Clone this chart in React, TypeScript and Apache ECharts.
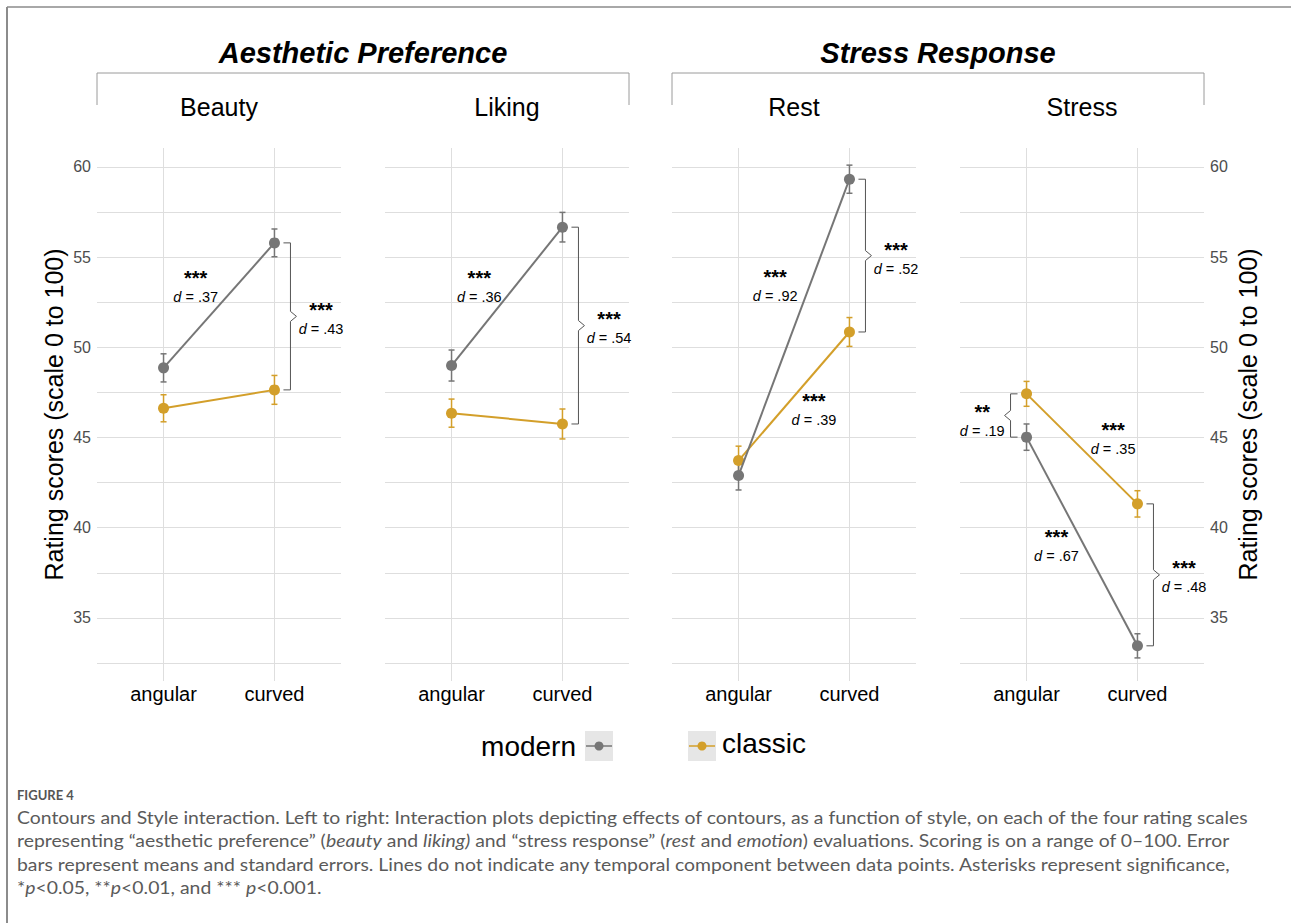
import React, { useEffect, useRef } from 'react';
import * as echarts from 'echarts';

// ---------- data ----------
const panelTitles = ['Beauty', 'Liking', 'Rest', 'Stress'];
const groupTitles = ['Aesthetic Preference', 'Stress Response'];
const conditions = ['angular', 'curved'];
const yLabelTicks = [35, 40, 45, 50, 55, 60];
const yGridTicks = [32.5, 35, 37.5, 40, 42.5, 45, 47.5, 50, 52.5, 55, 57.5, 60];

const modernMean = [[48.86, 55.79], [48.99, 56.66], [42.89, 59.32], [45.02, 33.45]];
const modernSE = [[0.78, 0.77], [0.86, 0.82], [0.8, 0.78], [0.73, 0.67]];
const classicMean = [[46.62, 47.64], [46.35, 45.75], [43.72, 50.85], [47.42, 41.32]];
const classicSE = [[0.75, 0.8], [0.78, 0.83], [0.8, 0.8], [0.69, 0.73]];

// annotation labels (data coordinates of the "d = ..." line centre)
const annPanel = [0, 0, 1, 1, 2, 2, 2, 3, 3, 3, 3];
const annX = [1.29, 2.42, 1.25, 2.42, 1.33, 2.42, 1.68, 0.6, 1.78, 1.27, 2.42];
const annY = [52.96, 51.19, 52.96, 50.69, 53.02, 54.51, 46.14, 45.53, 44.53, 38.6, 36.88];
const annStars = ['***', '***', '***', '***', '***', '***', '***', '**', '***', '***', '***'];
const annD = ['.37', '.43', '.36', '.54', '.92', '.52', '.39', '.19', '.35', '.67', '.48'];

// brackets between styles: panel, condition index, side (1 = right, -1 = left)
const brPanel = [0, 1, 2, 3, 3];
const brCond = [1, 1, 1, 0, 1];
const brSide = [1, 1, 1, -1, 1];

const legendNames = ['modern', 'classic'];

const captionHead = 'FIGURE 4';
const captionLines = [
  'Contours and Style interaction. Left to right: Interaction plots depicting effects of contours, as a function of style, on each of the four rating scales',
  'representing \u201caesthetic preference\u201d ({i|beauty} and {i|liking)} and \u201cstress response\u201d ({i|rest} and {i|emotion}) evaluations. Scoring is on a range of 0\u2013100. Error',
  'bars represent means and standard errors. Lines do not indicate any temporal component between data points. Asterisks represent significance,',
  '*{i|p}<0.05, **{i|p}<0.01, and *** {i|p}<0.001.',
];

// ---------- style / layout ----------
const FONT = 'Liberation Sans, Arial, sans-serif';
const CAP_FONT = 'Lato';
const MODERN = '#767676';
const CLASSIC = '#d39f2a';
const GRID_C = '#dedede';
const panelLeft = [97, 385, 672, 960];
const panelW = 244;
const plotTop = 148;
const plotH = 533;

function measure(text: string, font: string) {
  const c = document.createElement('canvas').getContext('2d');
  if (!c) return 1000;
  c.font = font;
  return c.measureText(text).width;
}

export default function App() {
  const ref = useRef<HTMLDivElement>(null);
  useEffect(() => {
    if (!ref.current) return;
    const chart = echarts.init(ref.current, undefined, { renderer: 'svg' });

    const grids: any[] = [];
    const xAxes: any[] = [];
    const yAxes: any[] = [];
    const series: any[] = [];

    for (let p = 0; p < 4; p++) {
      grids.push({ left: panelLeft[p], top: plotTop, width: panelW, height: plotH });
      xAxes.push({
        type: 'value', gridIndex: p, min: 0.4, max: 2.6,
        axisLine: { show: false },
        axisTick: { show: false, customValues: [1, 2] },
        axisLabel: {
          customValues: [1, 2], formatter: (v: number) => conditions[Math.round(v) - 1] || '',
          fontSize: 20, color: '#000', fontFamily: FONT, margin: 3,
        },
        splitLine: { show: true, lineStyle: { color: GRID_C, width: 1 } },
      });
      const showLab = p === 0 || p === 3;
      yAxes.push({
        type: 'value', gridIndex: p, min: 31.5, max: 61.05,
        position: p === 3 ? 'right' : 'left',
        axisLine: { show: false },
        axisTick: { show: false, customValues: yGridTicks },
        axisLabel: { show: showLab, customValues: yLabelTicks, fontSize: 16, color: '#4d4d4d', fontFamily: FONT, margin: 6 },
        splitLine: { show: true, lineStyle: { color: GRID_C, width: 1 } },
        name: showLab ? 'Rating scores (scale 0 to 100)' : '',
        nameLocation: 'middle', nameRotate: 90, nameGap: 31,
        nameTextStyle: { fontSize: 25, color: '#000', fontFamily: FONT },
      });

      const mk = (mean: number[][], se: number[][]) =>
        [0, 1].map((c) => [c + 1, mean[p][c] - se[p][c], mean[p][c] + se[p][c]]);
      const errRender = (color: string) => (params: any, api: any) => {
        const x = api.value(0);
        const lo = api.coord([x, api.value(1)]);
        const hi = api.coord([x, api.value(2)]);
        const w = 3;
        const st = { stroke: color, lineWidth: 1.5 };
        return {
          type: 'group', children: [
            { type: 'line', shape: { x1: lo[0], y1: lo[1], x2: hi[0], y2: hi[1] }, style: st },
            { type: 'line', shape: { x1: lo[0] - w, y1: lo[1], x2: lo[0] + w, y2: lo[1] }, style: st },
            { type: 'line', shape: { x1: hi[0] - w, y1: hi[1], x2: hi[0] + w, y2: hi[1] }, style: st },
          ],
        };
      };
      series.push({
        type: 'custom', xAxisIndex: p, yAxisIndex: p, data: mk(classicMean, classicSE),
        encode: { x: 0, y: [1, 2] }, renderItem: errRender(CLASSIC), z: 2, silent: true,
      });
      series.push({
        type: 'custom', xAxisIndex: p, yAxisIndex: p, data: mk(modernMean, modernSE),
        encode: { x: 0, y: [1, 2] }, renderItem: errRender(MODERN), z: 2, silent: true,
      });
      series.push({
        type: 'line', name: 'classic', xAxisIndex: p, yAxisIndex: p,
        data: [[1, classicMean[p][0]], [2, classicMean[p][1]]],
        symbol: 'circle', symbolSize: 11, color: CLASSIC,
        lineStyle: { color: CLASSIC, width: 2 }, itemStyle: { color: CLASSIC }, z: 3,
      });
      series.push({
        type: 'line', name: 'modern', xAxisIndex: p, yAxisIndex: p,
        data: [[1, modernMean[p][0]], [2, modernMean[p][1]]],
        symbol: 'circle', symbolSize: 11, color: MODERN,
        lineStyle: { color: MODERN, width: 2 }, itemStyle: { color: MODERN }, z: 4,
      });

      // brackets
      const brData: any[] = [];
      brPanel.forEach((bp, i) => {
        if (bp !== p) return;
        const c = brCond[i];
        brData.push([c + 1, modernMean[p][c], classicMean[p][c], brSide[i]]);
      });
      if (brData.length) {
        series.push({
          type: 'custom', xAxisIndex: p, yAxisIndex: p, data: brData, silent: true, z: 5,
          encode: { x: 0, y: [1, 2] },
          renderItem: (params: any, api: any) => {
            const x = api.value(0);
            const s = api.value(3);
            const a = api.coord([x, api.value(1)]);
            const b = api.coord([x, api.value(2)]);
            const y1 = Math.min(a[1], b[1]);
            const y2 = Math.max(a[1], b[1]);
            const m = (y1 + y2) / 2;
            const x0 = a[0] + 9 * s;
            const xv = a[0] + 16 * s;
            const xt = a[0] + 22 * s;
            return {
              type: 'polyline',
              shape: { points: [[x0, y1], [xv, y1], [xv, m - 5], [xt, m], [xv, m + 5], [xv, y2], [x0, y2]] },
              style: { stroke: '#555', lineWidth: 1, fill: 'none' },
            };
          },
        });
      }

      // annotations
      const anData: any[] = [];
      annPanel.forEach((ap, i) => {
        if (ap === p) anData.push([annX[i], annY[i], i]);
      });
      series.push({
        type: 'custom', xAxisIndex: p, yAxisIndex: p, data: anData, silent: true, z: 6,
        encode: { x: 0, y: 1 },
        renderItem: (params: any, api: any) => {
          const pt = api.coord([api.value(0), api.value(1)]);
          const i = api.value(2);
          return {
            type: 'group', children: [
              {
                type: 'text', x: pt[0], y: pt[1] - 16,
                style: { text: annStars[i], fontSize: 20, fontWeight: 'bold', fontFamily: FONT, fill: '#000', align: 'center', verticalAlign: 'middle' },
              },
              {
                type: 'text', x: pt[0], y: pt[1] + 3,
                style: {
                  text: '{i|d} = ' + annD[i], fontSize: 14.5, fontFamily: FONT, fill: '#000',
                  align: 'center', verticalAlign: 'middle',
                  rich: { i: { fontStyle: 'italic', fontSize: 14.5, fontFamily: FONT, fill: '#000' } },
                },
              },
            ],
          };
        },
      });
    }

    // ---------- graphic (frame, headers, legend, caption) ----------
    const g: any[] = [];
    g.push({ type: 'line', shape: { x1: 7, y1: 7, x2: 1291, y2: 7 }, style: { stroke: '#a8a8a8', lineWidth: 2 } });
    g.push({ type: 'line', shape: { x1: 7, y1: 7, x2: 7, y2: 923 }, style: { stroke: '#8c8c8c', lineWidth: 2 } });

    [[0, 1], [2, 3]].forEach((pair, gi) => {
      const xa = panelLeft[pair[0]];
      const xb = panelLeft[pair[1]] + panelW;
      g.push({
        type: 'polyline', shape: { points: [[xa, 105], [xa, 73], [xb, 73], [xb, 105]] },
        style: { stroke: '#9a9a9a', lineWidth: 1, fill: 'none' },
      });
      g.push({
        type: 'text', x: (xa + xb) / 2, y: 53,
        style: { text: groupTitles[gi], fontSize: 29, fontWeight: 'bold', fontStyle: 'italic', fontFamily: FONT, fill: '#000', align: 'center', verticalAlign: 'middle' },
      });
    });
    panelTitles.forEach((t, p) => {
      g.push({
        type: 'text', x: panelLeft[p] + panelW / 2, y: 107,
        style: { text: t, fontSize: 25, fontFamily: FONT, fill: '#000', align: 'center', verticalAlign: 'middle' },
      });
    });

    // legend
    const legY = 746;
    const keyBox = (x: number, color: string) => [
      { type: 'rect', shape: { x, y: legY - 15, width: 28, height: 30 }, style: { fill: '#e6e6e6' } },
      { type: 'line', shape: { x1: x + 1, y1: legY, x2: x + 27, y2: legY }, style: { stroke: color, lineWidth: 1.5 } },
      { type: 'circle', shape: { cx: x + 14, cy: legY, r: 4.5 }, style: { fill: color } },
    ];
    g.push(...keyBox(585, MODERN));
    g.push({ type: 'text', x: 576, y: legY, style: { text: legendNames[0], fontSize: 28, fontFamily: FONT, fill: '#000', align: 'right', verticalAlign: 'middle' } });
    g.push(...keyBox(688, CLASSIC));
    g.push({ type: 'text', x: 722, y: legY - 3, style: { text: legendNames[1], fontSize: 28, fontFamily: FONT, fill: '#000', align: 'left', verticalAlign: 'middle' } });

    // caption
    const capSize = 17;
    const natural = measure(captionLines[0], `${capSize}px ${CAP_FONT}`);
    const sx = 1233 / natural;
    g.push({
      type: 'text', x: 17, y: 795,
      style: { text: captionHead, fontSize: 13, fontWeight: 'bold', fontFamily: CAP_FONT, fill: '#555', align: 'left', verticalAlign: 'middle' },
    });
    const capY = [817, 840, 864, 887];
    captionLines.forEach((line, i) => {
      g.push({
        type: 'text', x: 17, y: capY[i], scaleX: sx,
        style: {
          text: line, fontSize: capSize, fontFamily: CAP_FONT, fill: '#5a5a5a', align: 'left', verticalAlign: 'middle',
          rich: { i: { fontStyle: 'italic', fontSize: capSize, fontFamily: CAP_FONT, fill: '#5a5a5a' } },
        },
      });
    });

    chart.setOption({
      animation: false,
      backgroundColor: '#fff',
      grid: grids,
      xAxis: xAxes,
      yAxis: yAxes,
      series,
      graphic: { elements: g },
    });
    return () => chart.dispose();
  }, []);
  return <div ref={ref} style={{ position: 'fixed', left: 0, top: 0, width: 1291, height: 923, background: '#fff' }} />;
}
